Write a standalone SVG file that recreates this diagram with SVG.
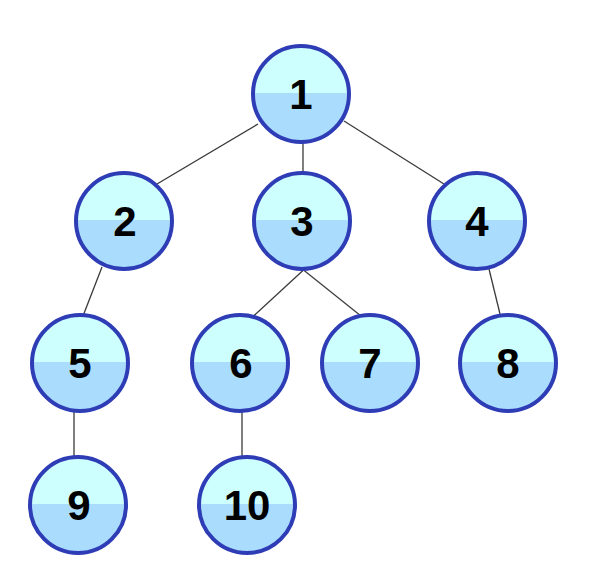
<svg xmlns="http://www.w3.org/2000/svg" width="603" height="581" viewBox="0 0 603 581">
  <defs>
    <linearGradient id="fill" x1="0" y1="0" x2="0" y2="1">
      <stop offset="0" stop-color="#cdffff"/>
      <stop offset="0.49" stop-color="#cdffff"/>
      <stop offset="0.49" stop-color="#aadcfd"/>
      <stop offset="1" stop-color="#aadcfd"/>
    </linearGradient>
  </defs>
  <style>
    .node circle { fill: url(#fill); stroke: #2e3db6; stroke-width: 4; }
    .node text { font-family: "Liberation Sans", Arial, sans-serif; font-weight: bold; font-size: 42px; fill: #000; text-anchor: middle; }
    .edges line { stroke: #3a3a3a; stroke-width: 1.3; }
  </style>
  <rect width="603" height="581" fill="#ffffff"/>
  <g class="edges" id="edges">
    <line x1="258" y1="124" x2="157" y2="184"/>
    <line x1="303" y1="142" x2="303" y2="174"/>
    <line x1="344" y1="121" x2="444" y2="184"/>
    <line x1="102" y1="267" x2="83" y2="316"/>
    <line x1="303.5" y1="270" x2="253.5" y2="316"/>
    <line x1="303.5" y1="270" x2="361" y2="316"/>
    <line x1="489" y1="269" x2="500.5" y2="316"/>
    <line x1="74" y1="411" x2="74" y2="458"/>
    <line x1="242" y1="411" x2="242" y2="458"/>
  </g>
  <g class="node" id="n1"><circle cx="301" cy="94" r="48"/><text x="301" y="109">1</text></g>
  <g class="node" id="n2"><circle cx="124" cy="221" r="48"/><text x="125" y="236">2</text></g>
  <g class="node" id="n3"><circle cx="302" cy="221" r="48"/><text x="302" y="236">3</text></g>
  <g class="node" id="n4"><circle cx="477" cy="221" r="48"/><text x="477" y="236">4</text></g>
  <g class="node" id="n5"><circle cx="80" cy="363" r="48"/><text x="80" y="378">5</text></g>
  <g class="node" id="n6"><circle cx="240" cy="363" r="48"/><text x="241" y="378">6</text></g>
  <g class="node" id="n7"><circle cx="370" cy="363" r="48"/><text x="370" y="378">7</text></g>
  <g class="node" id="n8"><circle cx="508" cy="363" r="48"/><text x="508" y="378">8</text></g>
  <g class="node" id="n9"><circle cx="78" cy="505" r="48"/><text x="79" y="520">9</text></g>
  <g class="node" id="n10"><circle cx="247" cy="505" r="48"/><text x="247" y="520">10</text></g>
</svg>
